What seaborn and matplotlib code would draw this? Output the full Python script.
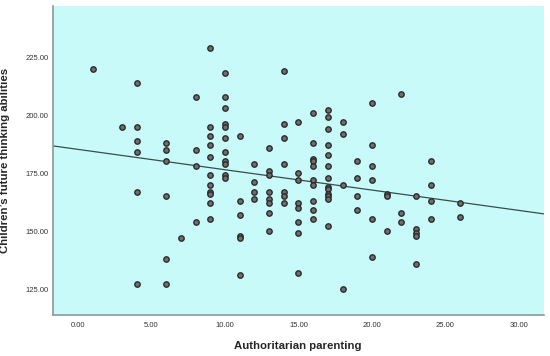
import matplotlib
matplotlib.use('Agg')
import matplotlib.pyplot as plt
import seaborn as sns
import pandas as pd
import numpy as np

# authoritarian parenting score -> future thinking scores
x1 = [1]
y1 = [220]
x3 = [3]
y3 = [195]
x4 = [4] * 6
y4 = [214, 195, 189, 184, 167, 127]
x6 = [6] * 6
y6 = [188, 185, 180, 165, 138, 127]
x7 = [7]
y7 = [147]
x8 = [8] * 4
y8 = [208, 185, 178, 154]
x9 = [9] * 11
y9 = [229, 195, 191, 187, 182, 174, 170, 167, 166, 162, 155]
x10 = [10] * 11
y10 = [218, 208, 203, 196, 195, 190, 184, 180, 179, 174, 173]
x11 = [11] * 6
y11 = [191, 163, 157, 148, 147, 131]
x12 = [12] * 4
y12 = [179, 171, 167, 164]
x13 = [13] * 8
y13 = [186, 176, 174, 167, 164, 162, 158, 150]
x14 = [14] * 7
y14 = [219, 196, 190, 179, 167, 165, 162]
x15 = [15] * 8
y15 = [197, 175, 172, 162, 160, 154, 149, 132]
x16 = [16] * 10
y16 = [201, 188, 181, 180, 178, 172, 170, 163, 159, 155]
x17 = [17] * 13
y17 = [202, 199, 194, 187, 183, 178, 173, 169, 168, 166, 165, 164, 152]
x18 = [18] * 4
y18 = [197, 192, 170, 125]
x19 = [19] * 4
y19 = [180, 173, 165, 159]
x20 = [20] * 6
y20 = [205, 187, 178, 172, 155, 139]
x21 = [21] * 3
y21 = [166, 165, 150]
x22 = [22] * 3
y22 = [209, 158, 154]
x23 = [23] * 5
y23 = [165, 151, 149, 148, 136]
x24 = [24] * 4
y24 = [180, 170, 163, 155]
x26 = [26] * 2
y26 = [162, 156]

xs = x1 + x3 + x4 + x6 + x7 + x8 + x9 + x10 + x11 + x12 + x13 + x14 + x15 + \
    x16 + x17 + x18 + x19 + x20 + x21 + x22 + x23 + x24 + x26
ys = y1 + y3 + y4 + y6 + y7 + y8 + y9 + y10 + y11 + y12 + y13 + y14 + y15 + \
    y16 + y17 + y18 + y19 + y20 + y21 + y22 + y23 + y24 + y26

x_ticks = [0, 5, 10, 15, 20, 25, 30]
y_ticks = [125, 150, 175, 200, 225]

df = pd.DataFrame({'auth': xs, 'future': ys})

sns.set_style('white')
plt.rcParams['font.family'] = ['Liberation Sans', 'DejaVu Sans']

fig = plt.figure(figsize=(5.5, 3.56), dpi=100)
ax = fig.add_axes([0.0964, 0.115, 0.8926, 0.868])
ax.set_facecolor('#c8fafa')
ax.set_xlim(-1.7, 31.7)
ax.set_ylim(113.8, 247)

sns.scatterplot(data=df, x='auth', y='future', ax=ax,
                color='#6e6e6e', edgecolor='#2b2b2b', linewidth=1.0, s=15, zorder=3)
sns.regplot(data=df, x='auth', y='future', ax=ax, scatter=False, ci=None,
            truncate=False, line_kws={'color': '#3a4d4d', 'linewidth': 0.9})

ax.set_xticks(x_ticks)
ax.set_xticklabels([f'{v:.2f}' for v in x_ticks])
ax.set_yticks(y_ticks)
ax.set_yticklabels([f'{v:.2f}' for v in y_ticks])
ax.tick_params(axis='both', length=0, labelsize=5.5, labelcolor='#333333')
ax.tick_params(axis='y', pad=3)
ax.tick_params(axis='x', pad=5)

for side in ['top', 'right']:
    ax.spines[side].set_visible(False)
for side in ['left', 'bottom']:
    ax.spines[side].set_color('#8a9a9a')
    ax.spines[side].set_linewidth(1.2)

ax.set_xlabel('Authoritarian parenting', fontsize=8.2, fontweight='bold')
ax.xaxis.set_label_coords(0.498, -0.085)
ax.set_ylabel('Children\u2019s future thinking abilities', fontsize=8.2,
              fontweight='bold')
ax.yaxis.set_label_coords(-0.088, 0.5)

fig.savefig('out.png', dpi=100)
